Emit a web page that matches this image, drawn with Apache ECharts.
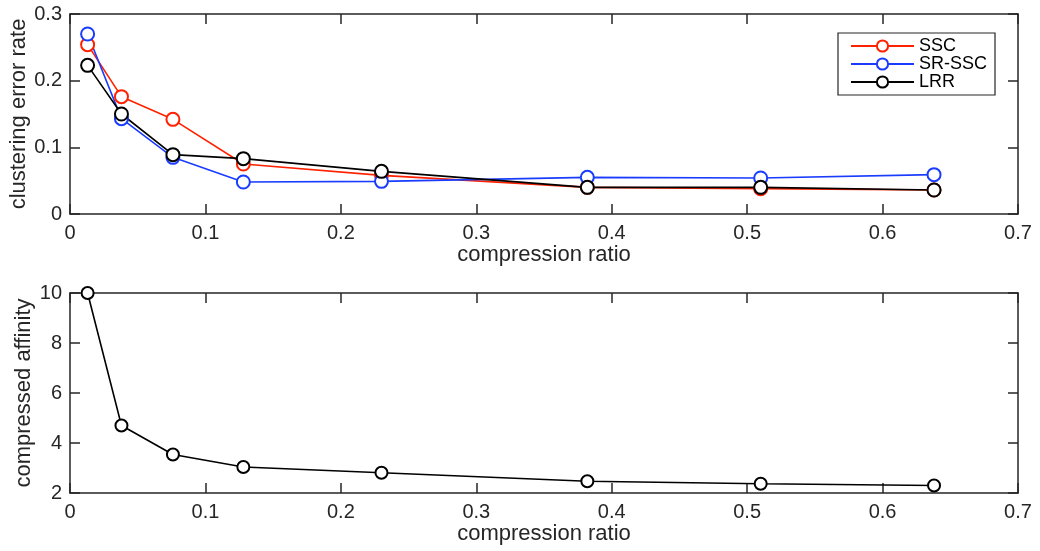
<!DOCTYPE html>
<html>
<head>
<meta charset="utf-8">
<script src="https://cdn.jsdelivr.net/npm/echarts@6/dist/echarts.min.js"></script>
<style>
  html, body { margin: 0; padding: 0; background: #fff; }
  #chart { width: 1040px; height: 551px; }
</style>
</head>
<body>
<div id="chart"></div>
<script>
// compression ratios (x values shared by both panels)
const ratio = [0.013, 0.038, 0.076, 0.128, 0.230, 0.382, 0.510, 0.638];

// top panel: clustering error rate
const ssc   = [0.254, 0.176, 0.142, 0.075, 0.058, 0.040, 0.038, 0.036];
const srssc = [0.270, 0.143, 0.085, 0.048, 0.049, 0.055, 0.054, 0.059];
const lrr   = [0.223, 0.150, 0.089, 0.083, 0.064, 0.040, 0.040, 0.036];

// bottom panel: compressed affinity
const affinity = [10.0, 4.70, 3.54, 3.04, 2.81, 2.47, 2.37, 2.30];

const ink = '#262626';
const font = '"Liberation Sans", Arial, Helvetica, sans-serif';

const pairs = (xs, ys) => xs.map((x, i) => [x, ys[i]]);

// box axes with inward ticks on all four sides, like matlab
function xAx(grid, pos, showLabel) {
  return {
    type: 'value', gridIndex: grid, position: pos,
    min: 0, max: 0.7, interval: 0.1,
    name: showLabel ? 'compression ratio' : '',
    nameLocation: 'middle', nameGap: 30, nameMoveOverlap: false,
    nameTextStyle: { color: ink, fontSize: 22, fontFamily: font },
    axisLine: { show: true, onZero: false, lineStyle: { color: ink, width: 1.5 } },
    axisTick: { show: true, inside: true, length: 10, lineStyle: { color: ink, width: 1.5 } },
    axisLabel: { show: showLabel, color: ink, fontSize: 20, fontFamily: font, margin: 9 },
    splitLine: { show: false }
  };
}
function yAx(grid, pos, showLabel, min, max, step, title, gap) {
  return {
    type: 'value', gridIndex: grid, position: pos,
    min: min, max: max, interval: step,
    name: showLabel ? title : '',
    nameLocation: 'middle', nameGap: gap, nameMoveOverlap: false,
    nameTextStyle: { color: ink, fontSize: 22, fontFamily: font },
    axisLine: { show: true, onZero: false, lineStyle: { color: ink, width: 1.5 } },
    axisTick: { show: true, inside: true, length: 10, lineStyle: { color: ink, width: 1.5 } },
    axisLabel: { show: showLabel, color: ink, fontSize: 20, fontFamily: font, margin: 8 },
    splitLine: { show: false }
  };
}

function lineSeries(name, color, data, xi, yi, size) {
  return {
    name: name, type: 'line', xAxisIndex: xi, yAxisIndex: yi,
    data: data, symbol: 'emptyCircle', symbolSize: size,
    lineStyle: { color: color, width: 1.6 },
    itemStyle: { color: color, borderColor: color, borderWidth: 1.6 },
    animation: false
  };
}

const chart = echarts.init(document.getElementById('chart'));
chart.setOption({
  backgroundColor: '#fff',
  animation: false,
  grid: [
    { left: 70, top: 14, right: 22, height: 200, outerBoundsMode: 'none', containLabel: false },
    { left: 70, top: 293, right: 22, height: 200, outerBoundsMode: 'none', containLabel: false }
  ],
  xAxis: [xAx(0, 'bottom', true), xAx(0, 'top', false), xAx(1, 'bottom', true), xAx(1, 'top', false)],
  yAxis: [
    yAx(0, 'left', true, 0, 0.3, 0.1, 'clustering error rate', 40),
    yAx(0, 'right', false, 0, 0.3, 0.1, '', 0),
    yAx(1, 'left', true, 2, 10, 2, 'compressed affinity', 35),
    yAx(1, 'right', false, 2, 10, 2, '', 0)
  ],
  legend: {
    data: ['SSC', 'SR-SSC', 'LRR'],
    orient: 'vertical', left: 838, top: 33,
    itemWidth: 63, itemHeight: 14, itemGap: 0,
    padding: [4, 8, 4, 12],
    backgroundColor: '#fff', borderColor: ink, borderWidth: 1.2, borderRadius: 0,
    textStyle: { color: '#000', fontSize: 18, fontFamily: font, lineHeight: 18 }
  },
  series: [
    lineSeries('SSC', '#ff2200', pairs(ratio, ssc), 0, 0, 13),
    lineSeries('SR-SSC', '#1a3cff', pairs(ratio, srssc), 0, 0, 13),
    lineSeries('LRR', '#000000', pairs(ratio, lrr), 0, 0, 13),
    lineSeries('affinity', '#000000', pairs(ratio, affinity), 2, 2, 12)
  ]
});
</script>
</body>
</html>
